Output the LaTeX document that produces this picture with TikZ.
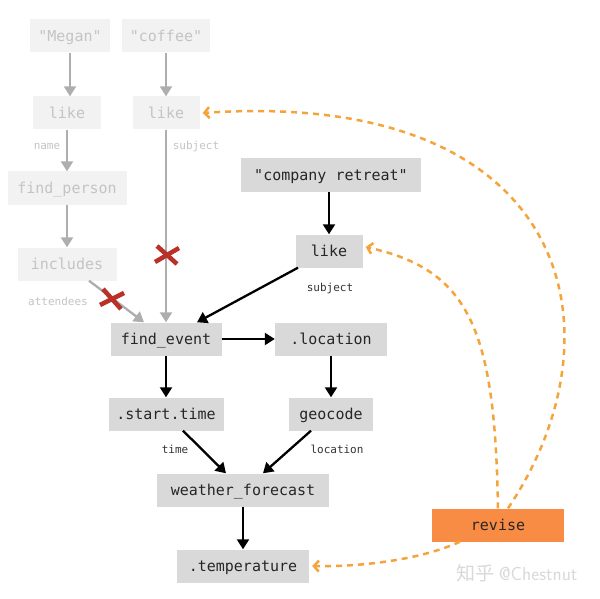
\documentclass[tikz,border=0pt]{standalone}
\usepackage{fontspec}
\setmonofont{DejaVu Sans Mono}
\newfontfamily\cjkfont{Noto Sans CJK SC}
\usetikzlibrary{arrows.meta}
\definecolor{boxgray}{HTML}{D9D9D9}
\definecolor{fadebox}{HTML}{F2F2F2}
\definecolor{fadetext}{HTML}{C4C4C4}
\definecolor{fadearrow}{HTML}{AEAEAE}
\definecolor{revorange}{HTML}{F98C45}
\definecolor{dashorange}{HTML}{F3A43A}
\definecolor{xred}{HTML}{B8322A}
\definecolor{labgray}{HTML}{333333}
\tikzset{
  boxbase/.style={minimum height=33pt, inner sep=0pt, text height=12pt, text depth=1.5pt, font=\ttfamily\fontsize{15}{17}\selectfont},
  opbox/.style={boxbase, fill=boxgray, text=black!85},
  fadedbox/.style={boxbase, fill=fadebox, text=fadetext},
  revbox/.style={boxbase, fill=revorange, text=black!85},
  lab/.style={font=\ttfamily\fontsize{11}{13}\selectfont, text=labgray, inner sep=0pt},
  fadelab/.style={font=\ttfamily\fontsize{11}{13}\selectfont, text=fadetext, inner sep=0pt},
  blackarrow/.style={line width=2.3pt, draw=black, -{Triangle[length=10pt,width=12pt]}},
  grayarrow/.style={line width=2.3pt, draw=fadearrow, -{Triangle[length=10pt,width=12pt]}},
  revarrow/.style={line width=2.5pt, draw=dashorange, dash pattern=on 6pt off 5pt, -{Straight Barb[length=5pt,width=11pt,line width=2.5pt]}},
  redx/.style={line width=4.5pt, draw=xred},
}
\begin{document}
\begin{tikzpicture}[x=1pt,y=-1pt]
\useasboundingbox (0,0) rectangle (600,599);
\fill[white] (0,0) rectangle (600,599);
% faded nodes
\node[fadedbox, minimum width=80pt] (megan) at (70,36) {"Megan"};
\node[fadedbox, minimum width=88pt] (coffee) at (166,36) {"coffee"};
\node[fadedbox, minimum width=68pt] (like1) at (67,113) {like};
\node[fadedbox, minimum width=67pt] (like2) at (166,113) {like};
\node[fadedbox, minimum width=119pt] (findp) at (67,188) {find\_person};
\node[fadedbox, minimum width=99pt] (incl) at (67,264) {includes};
% active nodes
\node[opbox, minimum width=180pt, minimum height=34pt] (cr) at (331,175) {"company retreat"};
\node[opbox, minimum width=67pt] (like3) at (329,251) {like};
\node[opbox, minimum width=111pt] (fe) at (166,339) {find\_event};
\node[opbox, minimum width=112pt] (loc) at (331,339) {.location};
\node[opbox, minimum width=115pt] (st) at (166,414) {.start.time};
\node[opbox, minimum width=84pt] (geo) at (331,414) {geocode};
\node[opbox, minimum width=172pt] (wf) at (243,490) {weather\_forecast};
\node[opbox, minimum width=132pt] (temp) at (243,566) {.temperature};
\node[revbox, minimum width=132pt] (rev) at (498,525) {revise};
% labels
\node[fadelab] (lname) at (47,146) {name};
\node[fadelab] (lsubj1) at (196,146) {subject};
\node[fadelab] (latt) at (58,301) {attendees};
\node[lab] (lsubj2) at (330,288) {subject};
\node[lab] (ltime) at (175,449) {time};
\node[lab] (lloc) at (337,449) {location};
% faded arrows
\draw[grayarrow] (megan.south) -- (megan.south |- like1.north);
\draw[grayarrow] (coffee.south) -- (like2.north);
\draw[grayarrow] (like1.south) -- (findp.north);
\draw[grayarrow] (findp.south) -- (incl.north);
\draw[grayarrow] (like2.south) -- (fe.north);
\draw[grayarrow] ([xshift=22pt]incl.south) -- ([xshift=-22pt]fe.north);
% black arrows
\draw[blackarrow] (cr.south -| like3.north) -- (like3.north);
\draw[blackarrow] ([xshift=-31pt]like3.south) -- ([xshift=31pt]fe.north);
\draw[blackarrow] (fe.east) -- (loc.west);
\draw[blackarrow] (fe.south) -- (st.north);
\draw[blackarrow] (loc.south) -- (geo.north);
\draw[blackarrow] ([xshift=17pt]st.south) -- ([xshift=-17pt]wf.north);
\draw[blackarrow] ([xshift=-20pt]geo.south) -- ([xshift=20pt]wf.north);
\draw[blackarrow] (wf.south) -- (temp.north);
% red crosses
\coordinate (x1) at (167,255);
\coordinate (x2) at (112,299);
\draw[redx] ([shift={(-12pt,-7pt)}]x1) -- ([shift={(12pt,7pt)}]x1);
\draw[redx] ([shift={(-10pt,9pt)}]x1) -- ([shift={(10pt,-9pt)}]x1);
\draw[redx] ([shift={(-12pt,-6pt)}]x2) -- ([shift={(12pt,6pt)}]x2);
\draw[redx] ([shift={(-9pt,10pt)}]x2) -- ([shift={(9pt,-10pt)}]x2);
% revise arrows
\draw[revarrow] ([xshift=10pt]rev.north) .. controls (628,330) and (570,88) .. ([xshift=3pt]like2.east);
\draw[revarrow] (rev.north) .. controls (495,330) and (470,270) .. ([xshift=3pt,yshift=4pt]like3.east);
\draw[revarrow] ([xshift=-38pt]rev.south) .. controls (420,560) and (360,567) .. ([xshift=3pt]temp.east);
% watermark
\node[text=black!15, font=\fontsize{19}{21}\selectfont, inner sep=0pt] (wm) at (517,573) {\cjkfont 知乎 \sffamily @Chestnut};
\end{tikzpicture}
\end{document}
